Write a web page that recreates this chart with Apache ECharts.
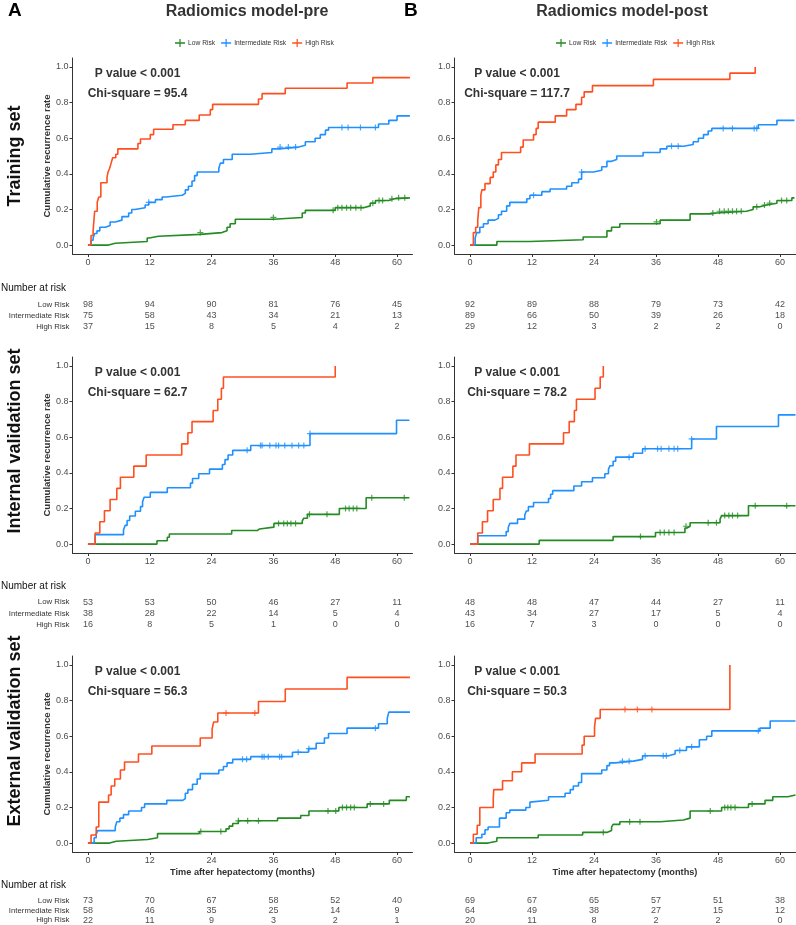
<!DOCTYPE html>
<html><head><meta charset="utf-8">
<script src="https://cdn.jsdelivr.net/npm/echarts@6/dist/echarts.min.js"></script>
<style>html,body{margin:0;padding:0;background:#fff}#c{width:796px;height:925px}</style>
</head><body><div id="c"></div><script>
// ---------- data ----------
const riskNames = ['Low Risk', 'Intermediate Risk', 'High Risk'];
const tickMonths = [0, 12, 24, 36, 48, 60];
const yTicks = [0, 0.2, 0.4, 0.6, 0.8, 1.0];
const columnTitles = ['Radiomics model-pre', 'Radiomics model-post'];
const rowTitles = ['Training set', 'Internal validation set', 'External validation set'];
const chiSquares = ['95.4', '117.7', '62.7', '78.2', '56.3', '50.3'];

// Training set, pre
const trainPreLow = [[0,0],[4.0,0.01],[5.3,0.02],[11.5,0.04],[11.9,0.05],[13.7,0.06],[21.8,0.07],[26.0,0.08],[27.0,0.1],[27.6,0.12],[28.6,0.145],[36.0,0.155],[41.6,0.18],[42.2,0.195],[48.0,0.21],[53.5,0.22],[54.8,0.235],[55.8,0.25],[58.4,0.26],[59.5,0.265],[62.5,0.265]];
const trainPreLowCens = [[21.8,0.07],[36.0,0.155],[47.6,0.195],[48.5,0.21],[49.3,0.21],[50.2,0.21],[51.0,0.21],[52.0,0.21],[53.0,0.21],[55.3,0.235],[56.5,0.25],[57.2,0.25],[59.0,0.26],[60.3,0.265],[61.5,0.265]];
const trainPreMid = [[0,0],[0.6,0.027],[1.0,0.04],[1.3,0.065],[1.75,0.08],[2.3,0.1],[3.4,0.11],[4.3,0.13],[5.3,0.14],[6.6,0.16],[7.9,0.18],[8.5,0.2],[9.1,0.21],[11.1,0.225],[11.8,0.24],[13.1,0.255],[14.4,0.27],[15.2,0.28],[18.3,0.29],[18.9,0.31],[19.5,0.33],[20.2,0.36],[20.7,0.39],[21.2,0.41],[25.4,0.43],[25.7,0.46],[26.3,0.48],[28.0,0.51],[31.5,0.52],[35.7,0.54],[37.0,0.55],[40.9,0.56],[42.2,0.58],[44.1,0.6],[45.1,0.62],[46.1,0.645],[46.7,0.66],[56.4,0.68],[58.4,0.7],[60.0,0.725],[62.5,0.725]];
const trainPreMidCens = [[11.8,0.24],[37.3,0.55],[38.9,0.55],[40.3,0.55],[49.3,0.66],[50.5,0.66],[52.9,0.66],[55.8,0.66]];
const trainPreHigh = [[0,0],[0.6,0.054],[1.0,0.08],[1.3,0.19],[1.8,0.24],[2.1,0.27],[2.5,0.35],[3.7,0.38],[3.9,0.41],[4.2,0.43],[4.5,0.46],[4.8,0.49],[5.4,0.51],[5.8,0.54],[9.7,0.57],[10.2,0.595],[12.1,0.62],[12.75,0.65],[16.5,0.675],[18.9,0.7],[21.6,0.73],[23.75,0.76],[24.2,0.79],[33.1,0.82],[33.8,0.85],[38.3,0.88],[50.3,0.91],[55.3,0.94],[62.5,0.94]];
const trainPreHighCens = [];

// Training set, post
const trainPostLow = [[0,0],[5.2,0.02],[11.6,0.03],[21.9,0.045],[26.5,0.08],[27.4,0.1],[29.0,0.12],[36.8,0.14],[42.6,0.175],[46.5,0.18],[47.7,0.19],[53.5,0.2],[54.8,0.215],[56.1,0.225],[57.4,0.235],[59.4,0.25],[62.3,0.265],[62.8,0.265]];
const trainPostLowCens = [[36.1,0.13],[47.0,0.18],[48.3,0.19],[49.2,0.19],[50.0,0.19],[50.8,0.19],[51.6,0.19],[52.5,0.19],[55.5,0.215],[57.0,0.225],[58.0,0.235],[60.3,0.25],[61.3,0.25]];
const trainPostMid = [[0,0],[1.0,0.04],[1.3,0.07],[1.9,0.1],[2.6,0.12],[3.5,0.14],[4.8,0.15],[5.5,0.17],[6.1,0.19],[7.1,0.22],[7.7,0.24],[11.0,0.26],[11.6,0.28],[13.9,0.3],[15.5,0.315],[18.7,0.33],[19.7,0.35],[21.0,0.37],[21.6,0.41],[23.9,0.42],[25.5,0.44],[26.5,0.47],[27.4,0.48],[28.4,0.5],[33.5,0.52],[36.8,0.54],[38.1,0.555],[41.3,0.565],[43.2,0.58],[44.2,0.6],[45.2,0.62],[46.1,0.64],[46.8,0.655],[55.8,0.675],[59.4,0.7],[62.8,0.7]];
const trainPostMidCens = [[12.3,0.28],[21.6,0.41],[39.0,0.555],[40.3,0.555],[49.0,0.655],[50.8,0.655],[55.0,0.655],[55.5,0.655]];
const trainPostHigh = [[0,0],[0.65,0.07],[1.1,0.1],[1.5,0.14],[1.7,0.21],[2.1,0.28],[2.3,0.31],[2.9,0.345],[3.9,0.38],[4.5,0.41],[5.0,0.45],[5.5,0.48],[6.1,0.52],[9.8,0.55],[10.3,0.59],[12.3,0.62],[12.8,0.655],[13.2,0.69],[16.5,0.725],[18.7,0.76],[20.5,0.79],[21.6,0.83],[22.1,0.86],[23.7,0.895],[35.5,0.93],[50.3,0.965],[55.2,1.0]];
const trainPostHighCens = [];

// Internal validation set, pre
const intPreLow = [[0,0],[13.4,0.019],[15.4,0.038],[15.8,0.057],[27.9,0.076],[32.9,0.085],[33.3,0.095],[36.1,0.116],[41.6,0.13],[41.9,0.145],[42.6,0.167],[48.8,0.2],[54.0,0.26],[62.4,0.26]];
const intPreLowCens = [[37.0,0.116],[38.0,0.116],[38.7,0.116],[39.4,0.116],[40.3,0.116],[43.0,0.167],[46.4,0.167],[50.0,0.2],[50.7,0.2],[51.5,0.2],[52.2,0.2],[55.1,0.26],[61.4,0.26]];
const intPreMid = [[0,0],[1.4,0.053],[6.9,0.079],[7.2,0.105],[7.6,0.132],[8.1,0.158],[9.2,0.184],[10.2,0.21],[10.6,0.237],[10.9,0.263],[12.1,0.29],[15.4,0.316],[19.9,0.342],[20.3,0.368],[21.5,0.395],[23.6,0.421],[26.1,0.447],[26.6,0.474],[27.2,0.5],[28.1,0.526],[31.6,0.553],[43.1,0.62],[59.9,0.695],[62.4,0.695]];
const intPreMidCens = [[30.9,0.526],[33.5,0.553],[33.8,0.553],[35.3,0.553],[36.5,0.553],[37.0,0.553],[38.2,0.553],[39.6,0.553],[40.9,0.553],[41.9,0.553],[43.1,0.62]];
const intPreHigh = [[0,0],[1.4,0.0625],[2.3,0.125],[3.2,0.1875],[4.3,0.25],[5.6,0.3125],[6.3,0.375],[8.9,0.4375],[11.3,0.5],[18.2,0.5625],[19.4,0.625],[20.2,0.6875],[24.3,0.75],[25.2,0.8125],[25.9,0.875],[26.3,0.9375],[48.0,1.0]];
const intPreHighCens = [];

// Internal validation set, post
const intPostLow = [[0,0],[13.4,0.021],[27.7,0.042],[35.9,0.065],[41.6,0.09],[42.0,0.1],[42.6,0.12],[48.4,0.14],[48.7,0.16],[53.9,0.215],[63,0.215]];
const intPostLowCens = [[33.0,0.042],[36.8,0.065],[37.6,0.065],[38.5,0.065],[39.5,0.065],[41.8,0.1],[46.1,0.12],[47.7,0.12],[49.3,0.16],[50.1,0.16],[50.8,0.16],[51.8,0.16],[55.2,0.215],[61.3,0.215]];
const intPostMid = [[0,0],[1.5,0.047],[7.0,0.07],[7.4,0.093],[7.7,0.116],[9.2,0.14],[10.6,0.163],[10.9,0.186],[11.3,0.21],[12.3,0.233],[15.2,0.256],[15.6,0.28],[16.0,0.3],[20.1,0.326],[21.6,0.35],[23.7,0.372],[26.1,0.395],[26.8,0.42],[27.1,0.44],[27.7,0.465],[28.2,0.488],[31.6,0.51],[33.4,0.535],[42.9,0.59],[47.7,0.66],[59.7,0.725],[63,0.725]];
const intPostMidCens = [[30.8,0.488],[33.9,0.535],[36.3,0.535],[37.0,0.535],[38.5,0.535],[39.5,0.535],[40.2,0.535],[42.9,0.59]];
const intPostHigh = [[0,0],[1.5,0.0625],[2.4,0.125],[3.4,0.1875],[4.5,0.25],[5.8,0.3125],[6.3,0.375],[8.3,0.4375],[8.9,0.5],[11.5,0.5625],[18.1,0.625],[19.2,0.6875],[20.2,0.75],[20.6,0.8125],[24.2,0.875],[25.2,0.9375],[25.8,1.0]];
const intPostHighCens = [];

// External validation set, pre
const extPreLow = [[0,0],[4.2,0.01],[5.5,0.02],[11.6,0.03],[13.5,0.053],[21.6,0.065],[26.8,0.08],[27.4,0.095],[28.1,0.11],[29.2,0.125],[36.8,0.14],[41.3,0.155],[42.9,0.18],[48.7,0.2],[54.2,0.22],[58.5,0.24],[61.8,0.26],[62.5,0.26]];
const extPreLowCens = [[21.9,0.065],[25.8,0.065],[29.2,0.125],[31.0,0.125],[33.1,0.125],[46.6,0.18],[48.1,0.18],[49.4,0.2],[50.2,0.2],[51.0,0.2],[51.7,0.2],[54.8,0.22],[57.4,0.22]];
const extPreMid = [[0,0],[1.2,0.03],[1.6,0.05],[1.9,0.07],[5.3,0.09],[5.6,0.12],[6.2,0.14],[6.9,0.16],[7.9,0.18],[10.4,0.2],[11.0,0.22],[15.3,0.24],[18.4,0.25],[18.9,0.28],[19.4,0.3],[20.3,0.33],[21.2,0.36],[21.8,0.39],[25.4,0.41],[26.3,0.43],[27.0,0.45],[28.1,0.47],[31.6,0.485],[39.7,0.51],[42.8,0.53],[44.3,0.56],[45.9,0.59],[46.7,0.615],[50.3,0.645],[56.4,0.67],[58.1,0.7],[58.4,0.735],[62.5,0.735]];
const extPreMidCens = [[30.0,0.47],[30.8,0.47],[33.8,0.485],[34.2,0.485],[35.0,0.485],[37.2,0.485],[37.6,0.485],[40.8,0.51],[42.9,0.53],[55.8,0.645]];
const extPreHigh = [[0,0],[0.6,0.045],[1.6,0.09],[2.1,0.23],[4.0,0.27],[4.5,0.32],[5.2,0.36],[6.3,0.41],[7.1,0.455],[9.8,0.5],[12.4,0.545],[21.8,0.59],[24.1,0.64],[24.4,0.68],[25.2,0.73],[33.1,0.795],[38.3,0.865],[50.3,0.93],[62.5,0.93]];
const extPreHighCens = [[26.8,0.73],[32.4,0.73]];

// External validation set, post
const extPostLow = [[0,0],[3.5,0.01],[5.2,0.03],[13.2,0.045],[21.8,0.06],[26.5,0.07],[27.4,0.09],[27.7,0.105],[29.0,0.12],[36.8,0.13],[41.3,0.14],[42.6,0.18],[48.7,0.2],[53.9,0.22],[57.1,0.24],[58.6,0.26],[61.5,0.27],[63,0.27]];
const extPostLowCens = [[25.8,0.06],[30.9,0.12],[32.9,0.12],[46.5,0.18],[49.3,0.2],[49.9,0.2],[50.5,0.2],[51.3,0.2],[54.6,0.22]];
const extPostMid = [[0,0],[1.2,0.03],[2.3,0.05],[2.9,0.075],[3.5,0.09],[5.7,0.14],[7.0,0.17],[7.7,0.185],[10.8,0.2],[11.6,0.23],[11.9,0.24],[15.2,0.26],[18.4,0.28],[19.4,0.3],[20.0,0.32],[21.0,0.34],[21.6,0.39],[25.5,0.41],[26.5,0.435],[27.0,0.45],[28.1,0.46],[31.6,0.47],[33.4,0.49],[38.4,0.5],[39.7,0.52],[41.9,0.54],[44.4,0.58],[45.8,0.6],[46.8,0.63],[56.1,0.645],[58.1,0.685],[63,0.685]];
const extPostMidCens = [[29.5,0.46],[30.8,0.46],[33.9,0.49],[37.4,0.49],[38.0,0.49],[40.6,0.52],[42.9,0.54],[55.8,0.63]];
const extPostHigh = [[0,0],[0.65,0.05],[1.4,0.1],[1.9,0.2],[4.5,0.25],[4.6,0.3],[6.3,0.35],[8.2,0.4],[10.0,0.45],[12.6,0.5],[21.7,0.55],[22.1,0.6],[24.1,0.65],[24.3,0.7],[25.2,0.75],[50.3,1.0]];
const extPostHighCens = [[30.0,0.75],[32.4,0.75],[35.2,0.75]];

// Number at risk (Low, Intermediate, High) at 0,12,24,36,48,60 months
const trainPreRisk  = [[98,94,90,81,76,45],[75,58,43,34,21,13],[37,15,8,5,4,2]];
const trainPostRisk = [[92,89,88,79,73,42],[89,66,50,39,26,18],[29,12,3,2,2,0]];
const intPreRisk    = [[53,53,50,46,27,11],[38,28,22,14,5,4],[16,8,5,1,0,0]];
const intPostRisk   = [[48,48,47,44,27,11],[43,34,27,17,5,4],[16,7,3,0,0,0]];
const extPreRisk    = [[73,70,67,58,52,40],[58,46,35,25,14,9],[22,11,9,3,2,1]];
const extPostRisk   = [[69,67,65,57,51,38],[64,49,38,27,15,12],[20,11,8,2,2,0]];

// ---------- layout / style ----------
const FONT = '"Liberation Sans", Arial, Helvetica, sans-serif';
const COLORS = ['#228B22', '#1E90FF', '#FF4F1F'];
const PLUS = 'path://M4,0H6V4H10V6H6V10H4V6H0V4H4Z';
const LEG_ICON = 'path://M0,4.3H4.4V1H5.6V4.3H10V5.7H5.6V9H4.4V5.7H0Z';
const colLeft = [72.5, 454.5], colWidth = [340, 341];
const rowTop = [58, 357, 656], plotH = 196;
const tableTop = [299.5, 596.5, 896], tableH = [33, 34, 30];

const panels = [
  {r:0,c:0,curves:[trainPreLow,trainPreMid,trainPreHigh],cens:[trainPreLowCens,trainPreMidCens,trainPreHighCens],risk:trainPreRisk},
  {r:0,c:1,curves:[trainPostLow,trainPostMid,trainPostHigh],cens:[trainPostLowCens,trainPostMidCens,trainPostHighCens],risk:trainPostRisk},
  {r:1,c:0,curves:[intPreLow,intPreMid,intPreHigh],cens:[intPreLowCens,intPreMidCens,intPreHighCens],risk:intPreRisk},
  {r:1,c:1,curves:[intPostLow,intPostMid,intPostHigh],cens:[intPostLowCens,intPostMidCens,intPostHighCens],risk:intPostRisk},
  {r:2,c:0,curves:[extPreLow,extPreMid,extPreHigh],cens:[extPreLowCens,extPreMidCens,extPreHighCens],risk:extPreRisk},
  {r:2,c:1,curves:[extPostLow,extPostMid,extPostHigh],cens:[extPostLowCens,extPostMidCens,extPostHighCens],risk:extPostRisk}
];

const grid = [], xAxis = [], yAxis = [], series = [], graphic = [];
const axisCol = '#333';
panels.forEach((p, i) => {
  const gPlot = grid.length;
  grid.push({left: colLeft[p.c], top: rowTop[p.r], width: colWidth[p.c], height: plotH});
  xAxis.push({
    gridIndex: gPlot, type: 'value', min: -3, max: 63,
    axisLine: {show: true, onZero: false, lineStyle: {color: axisCol, width: 1}},
    axisTick: {show: true, customValues: tickMonths, length: 3, lineStyle: {color: axisCol}},
    axisLabel: {customValues: tickMonths, fontSize: 9, color: '#4d4d4d', margin: 4, fontFamily: FONT},
    splitLine: {show: false},
    name: p.r === 2 ? 'Time after hepatectomy (months)' : '',
    nameLocation: 'middle', nameGap: 16,
    nameTextStyle: {fontWeight: 'bold', fontSize: 9.2, color: '#333', fontFamily: FONT}
  });
  yAxis.push({
    gridIndex: gPlot, type: 'value', min: -0.05, max: 1.05,
    axisLine: {show: true, onZero: false, lineStyle: {color: axisCol, width: 1}},
    axisTick: {show: true, customValues: yTicks, length: 3, lineStyle: {color: axisCol}},
    axisLabel: {customValues: yTicks, fontSize: 9, color: '#4d4d4d', margin: 4, fontFamily: FONT,
      formatter: v => Number(v).toFixed(1)},
    splitLine: {show: false},
    name: p.c === 0 ? 'Cumulative recurrence rate' : '',
    nameLocation: 'middle', nameGap: 20, nameRotate: 90,
    nameTextStyle: {fontWeight: 'bold', fontSize: 9.5, color: '#333', fontFamily: FONT}
  });
  p.curves.forEach((d, k) => {
    series.push({
      type: 'line', name: riskNames[k], xAxisIndex: gPlot, yAxisIndex: gPlot,
      data: d, step: 'end', showSymbol: false, symbol: 'none', silent: true, z: 3 + k,
      lineStyle: {color: COLORS[k], width: 1.6}, itemStyle: {color: COLORS[k]}
    });
  });
  p.cens.forEach((d, k) => {
    if (!d.length) return;
    series.push({
      type: 'scatter', name: riskNames[k], xAxisIndex: gPlot, yAxisIndex: gPlot,
      data: d, symbol: PLUS, symbolSize: 6, silent: true, z: 3 + k,
      itemStyle: {color: COLORS[k]}
    });
  });
  // risk table
  const gTab = grid.length;
  grid.push({left: colLeft[p.c], top: tableTop[p.r], width: colWidth[p.c], height: tableH[p.r]});
  xAxis.push({gridIndex: gTab, type: 'value', min: -3, max: 63, show: false});
  yAxis.push({
    gridIndex: gTab, type: 'category', data: riskNames, inverse: true,
    axisLine: {show: false}, axisTick: {show: false}, splitLine: {show: false},
    axisLabel: {show: p.c === 0, interval: 0, hideOverlap: false, fontSize: 7.8, color: '#333', margin: 3, fontFamily: FONT}
  });
  p.risk.forEach((vals, k) => {
    series.push({
      type: 'scatter', xAxisIndex: gTab, yAxisIndex: gTab, silent: true,
      symbolSize: 1, itemStyle: {color: 'rgba(0,0,0,0)'},
      data: tickMonths.map((t, j) => [t, k, vals[j]]),
      label: {show: true, position: 'inside', formatter: q => String(q.value[2]),
        fontSize: 9, color: '#222', fontFamily: FONT}
    });
  });
  // annotations
  const cx = p.c === 0 ? 137.5 : 517;
  graphic.push({type: 'text', x: cx, y: rowTop[p.r] + 16, style: {text: 'P value < 0.001', align: 'center', verticalAlign: 'middle', font: 'bold 12px ' + FONT, fill: '#333'}});
  graphic.push({type: 'text', x: cx, y: rowTop[p.r] + 36, style: {text: 'Chi-square = ' + chiSquares[i], align: 'center', verticalAlign: 'middle', font: 'bold 12px ' + FONT, fill: '#333'}});
});

// titles
graphic.push({type: 'text', x: 8, y: 11, style: {text: 'A', verticalAlign: 'middle', font: 'bold 19px ' + FONT, fill: '#000'}});
graphic.push({type: 'text', x: 404, y: 11, style: {text: 'B', verticalAlign: 'middle', font: 'bold 19px ' + FONT, fill: '#000'}});
graphic.push({type: 'text', x: 247, y: 12, style: {text: columnTitles[0], align: 'center', verticalAlign: 'middle', font: 'bold 16px ' + FONT, fill: '#333'}});
graphic.push({type: 'text', x: 622, y: 12, style: {text: columnTitles[1], align: 'center', verticalAlign: 'middle', font: 'bold 16px ' + FONT, fill: '#333'}});
const rowCenters = [156, 441, 731];
rowTitles.forEach((t, r) => {
  graphic.push({type: 'text', x: 15, y: rowCenters[r], rotation: Math.PI / 2,
    style: {text: t, align: 'center', verticalAlign: 'middle', font: 'bold 18px ' + FONT, fill: '#111'}});
});
const narY = [288, 586, 885];
narY.forEach(y => graphic.push({type: 'text', x: 1, y: y, style: {text: 'Number at risk', verticalAlign: 'middle', font: '10px ' + FONT, fill: '#111'}}));

const legendBase = {
  data: riskNames.map(n => ({name: n, icon: LEG_ICON})),
  top: 34, itemWidth: 10, itemHeight: 8, itemGap: 6, selectedMode: false,
  textStyle: {fontSize: 6.7, color: '#333', fontFamily: FONT, padding: [0, 0, 0, -2]}
};

const chart = echarts.init(document.getElementById('c'), null, {renderer: 'canvas'});
chart.setOption({
  animation: false,
  backgroundColor: '#fff',
  legend: [Object.assign({left: 170}, legendBase), Object.assign({left: 551}, legendBase)],
  grid, xAxis, yAxis, series, graphic
});
</script></body></html>
